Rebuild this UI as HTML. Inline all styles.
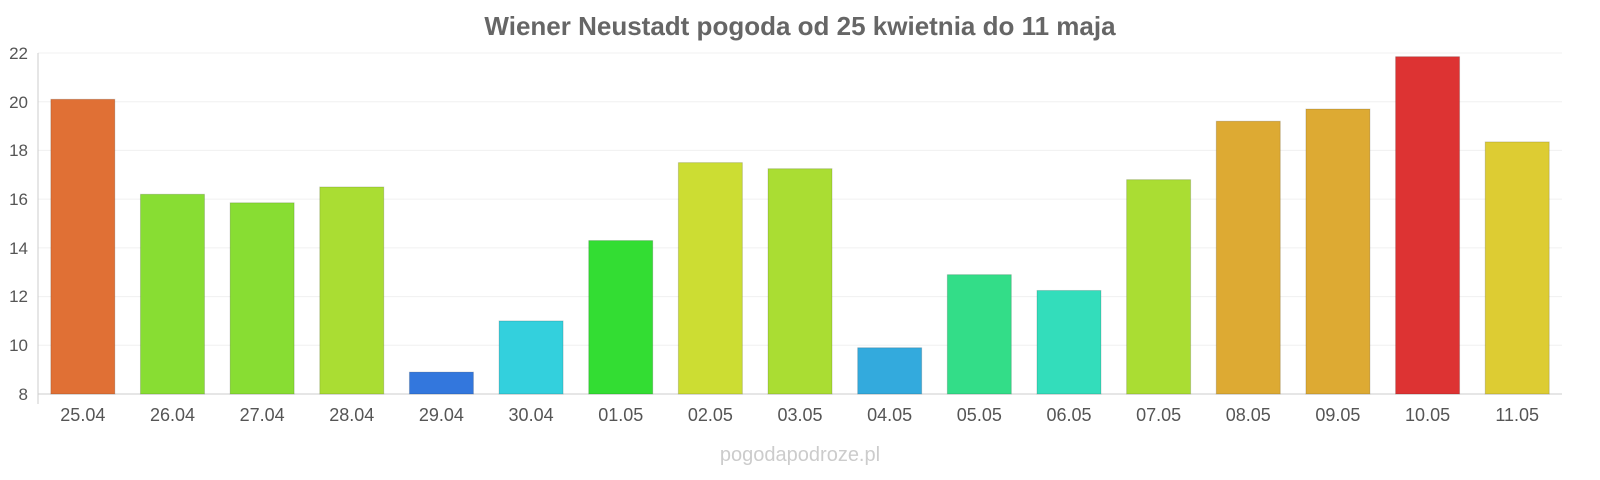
<!DOCTYPE html>
<html><head><meta charset="utf-8"><style>body{margin:0;background:#fff}svg{display:block}</style></head><body>
<svg width="1600" height="480" xmlns="http://www.w3.org/2000/svg" font-family="Liberation Sans, sans-serif">
<text x="800" y="35" text-anchor="middle" font-size="26" font-weight="bold" fill="#666">Wiener Neustadt pogoda od 25 kwietnia do 11 maja</text>
<g stroke="#f0f0f0" stroke-width="1">
<line x1="38" x2="1562" y1="53" y2="53"/><line x1="38" x2="1562" y1="101.7" y2="101.7"/><line x1="38" x2="1562" y1="150.4" y2="150.4"/><line x1="38" x2="1562" y1="199.1" y2="199.1"/><line x1="38" x2="1562" y1="247.9" y2="247.9"/><line x1="38" x2="1562" y1="296.6" y2="296.6"/><line x1="38" x2="1562" y1="345.3" y2="345.3"/>
</g>
<line x1="38" x2="38" y1="53" y2="404" stroke="#ccc"/>
<line x1="38" x2="1562" y1="394" y2="394" stroke="#ccc"/>
<g font-size="17" fill="#555" text-anchor="end">
<text x="28" y="400">8</text><text x="28" y="351">10</text><text x="28" y="302">12</text><text x="28" y="254">14</text><text x="28" y="205">16</text><text x="28" y="156">18</text><text x="28" y="108">20</text><text x="28" y="59">22</text>
</g>
<g id="bars"></g>
<g id="labels" font-size="18" fill="#555" text-anchor="middle"></g>
<text x="800" y="461" text-anchor="middle" font-size="20" fill="#ccc">pogodapodroze.pl</text>
<script>
var v=[20.1,16.2,15.85,16.5,8.9,11.0,14.3,17.5,17.25,9.9,12.9,12.25,16.8,19.2,19.7,21.85,18.35];
var c=["#e07035","#88dd33","#88dd33","#aadd33","#3377dd","#33d0dd","#33dd33","#ccdd33","#aadd33","#33aadd","#33dd88","#33ddbb","#aadd33","#ddaa33","#ddaa33","#dd3333","#ddcc33"];
var l=["25.04","26.04","27.04","28.04","29.04","30.04","01.05","02.05","03.05","04.05","05.05","06.05","07.05","08.05","09.05","10.05","11.05"];
var b=document.getElementById("bars"),t=document.getElementById("labels"),ns="http://www.w3.org/2000/svg";
for(var i=0;i<17;i++){var cx=38+89.65*(i+0.5);var y=394-(v[i]-8)*24.357;
var r=document.createElementNS(ns,"rect");r.setAttribute("x",cx-32);r.setAttribute("y",y);r.setAttribute("width",64);r.setAttribute("height",394-y);r.setAttribute("fill",c[i]);r.setAttribute("stroke","rgba(0,0,0,0.15)");b.appendChild(r);
var s=document.createElementNS(ns,"text");s.setAttribute("x",cx);s.setAttribute("y",421);s.textContent=l[i];t.appendChild(s);}
</script>
</svg>
</body></html>
